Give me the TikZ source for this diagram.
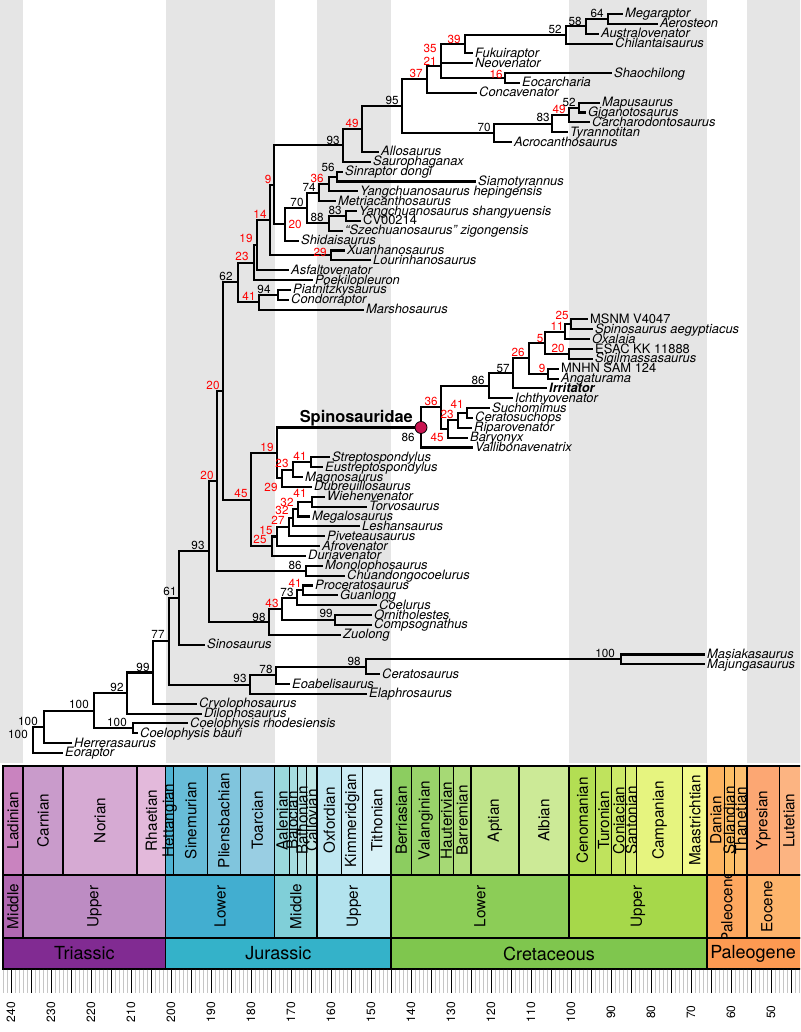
\documentclass[tikz,border=0pt]{standalone}
\usepackage{fontspec}
\setmainfont{TeX Gyre Heros}
\definecolor{band}{RGB}{229,229,229}
\definecolor{spcol}{RGB}{200,20,80}
\definecolor{cLad}{RGB}{201,131,191}
\definecolor{cCar}{RGB}{201,155,203}
\definecolor{cNor}{RGB}{214,170,211}
\definecolor{cRha}{RGB}{227,185,219}
\definecolor{cHet}{RGB}{78,179,211}
\definecolor{cSin}{RGB}{103,188,216}
\definecolor{cPli}{RGB}{128,197,221}
\definecolor{cToa}{RGB}{153,206,227}
\definecolor{cAal}{RGB}{154,217,221}
\definecolor{cBaj}{RGB}{166,221,224}
\definecolor{cBat}{RGB}{179,226,227}
\definecolor{cCal}{RGB}{191,231,229}
\definecolor{cOxf}{RGB}{191,231,241}
\definecolor{cKim}{RGB}{204,236,244}
\definecolor{cTit}{RGB}{217,241,247}
\definecolor{cBer}{RGB}{140,205,96}
\definecolor{cVal}{RGB}{153,211,106}
\definecolor{cHau}{RGB}{166,217,117}
\definecolor{cBar}{RGB}{179,223,127}
\definecolor{cApt}{RGB}{191,228,138}
\definecolor{cAlb}{RGB}{204,234,151}
\definecolor{cCen}{RGB}{179,222,83}
\definecolor{cTur}{RGB}{191,227,93}
\definecolor{cCon}{RGB}{204,233,104}
\definecolor{cSan}{RGB}{217,239,116}
\definecolor{cCam}{RGB}{230,244,127}
\definecolor{cMaa}{RGB}{242,250,140}
\definecolor{cDan}{RGB}{253,180,98}
\definecolor{cSel}{RGB}{254,191,101}
\definecolor{cTha}{RGB}{253,191,111}
\definecolor{cYpr}{RGB}{252,167,115}
\definecolor{cLut}{RGB}{252,180,130}
\definecolor{eMT}{RGB}{177,104,177}
\definecolor{eUT}{RGB}{189,140,195}
\definecolor{eLJ}{RGB}{66,174,208}
\definecolor{eMJ}{RGB}{128,207,216}
\definecolor{eUJ}{RGB}{179,227,238}
\definecolor{eLK}{RGB}{140,205,87}
\definecolor{eUK}{RGB}{166,216,74}
\definecolor{ePal}{RGB}{253,167,95}
\definecolor{eEoc}{RGB}{253,180,108}
\definecolor{pTr}{RGB}{129,43,146}
\definecolor{pJ}{RGB}{52,178,201}
\definecolor{pK}{RGB}{127,198,78}
\definecolor{pPg}{RGB}{253,154,82}
\begin{document}
\begin{tikzpicture}[x=1pt,y=-1pt,
  br/.style={line width=2.1pt},
  leaf/.style={anchor=west,inner xsep=2pt,inner ysep=0pt,text height=9pt,text depth=1pt,font=\fontsize{12.9}{13}\selectfont\itshape},
  rom/.style={font=\fontsize{12.9}{13}\selectfont\upshape},
  bld/.style={font=\fontsize{12.9}{13}\selectfont\bfseries\itshape},
  sup/.style={inner sep=0pt,text height=8.3pt,text depth=0pt,font=\fontsize{11.7}{12}\selectfont},
  rsup/.style={sup,text=red},
  spd/.style={circle,fill=spcol,draw=black,line width=0.8pt,minimum size=12pt,inner sep=0pt},
  tsb/.style={draw=black,line width=1.3pt},
  stl/.style={rotate=90,inner sep=0pt,font=\fontsize{15.3}{16}\selectfont},
  tkl/.style={rotate=90,inner sep=0pt,font=\fontsize{12}{12}\selectfont}]
\useasboundingbox (0,0) rectangle (800,1032);
\clip (0,0) rectangle (800,1032);
\fill[white] (0,0) rectangle (800,1032);
% background epoch bands
\begin{scope}[x=-4pt,xshift=971pt]
\foreach \a/\b in {242.7/237,201.3/174.1,163.5/145,100.5/66,56/30}
  \fill[band] (\a,0) rectangle (\b,763);
\end{scope}
% tree
\begin{scope}[y=-9.853pt,yshift=-4.147pt]
\node[leaf] (L1) at (623,1) {Megaraptor};
\node[leaf] (L2) at (658,2) {Aerosteon};
\node[leaf] (L3) at (599,3) {Australovenator};
\node[leaf] (L4) at (613,4) {Chilantaisaurus};
\node[leaf] (L5) at (473,5) {Fukuiraptor};
\node[leaf] (L6) at (473,6) {Neovenator};
\node[leaf] (L7) at (612,7) {Shaochilong};
\node[leaf] (L8) at (520,8) {Eocarcharia};
\node[leaf] (L9) at (477,9) {Concavenator};
\node[leaf] (L10) at (600,10) {Mapusaurus};
\node[leaf] (L11) at (586,11) {Giganotosaurus};
\node[leaf] (L12) at (590,12) {Carcharodontosaurus};
\node[leaf] (L13) at (568,13) {Tyrannotitan};
\node[leaf] (L14) at (512,14) {Acrocanthosaurus};
\node[leaf] (L15) at (379,15) {Allosaurus};
\node[leaf] (L16) at (371,16) {Saurophaganax};
\node[leaf] (L17) at (343,17) {Sinraptor dongi};
\node[leaf] (L18) at (476,18) {Siamotyrannus};
\node[leaf] (L19) at (358,19) {Yangchuanosaurus hepingensis};
\node[leaf] (L20) at (336,20) {Metriacanthosaurus};
\node[leaf] (L21) at (357,21) {Yangchuanosaurus shangyuensis};
\node[leaf,rom] (L22) at (361,22) {CV00214};
\node[leaf] (L23) at (343,23) {``Szechuanosaurus'' zigongensis};
\node[leaf] (L24) at (299,24) {Shidaisaurus};
\node[leaf] (L25) at (345,25) {Xuanhanosaurus};
\node[leaf] (L26) at (371,26) {Lourinhanosaurus};
\node[leaf] (L27) at (289,27) {Asfaltovenator};
\node[leaf] (L28) at (313,28) {Poekilopleuron};
\node[leaf] (L29) at (291,29) {Piatnitzkysaurus};
\node[leaf] (L30) at (289,30) {Condorraptor};
\node[leaf] (L31) at (364,31) {Marshosaurus};
\node[leaf,rom] (L32) at (588,32) {MSNM V4047};
\node[leaf] (L33) at (593,33) {Spinosaurus aegyptiacus};
\node[leaf] (L34) at (590,34) {Oxalaia};
\node[leaf,rom] (L35) at (593,35) {ESAC KK 11888};
\node[leaf] (L36) at (593,36) {Sigilmassasaurus};
\node[leaf,rom] (L37) at (559,37) {MNHN SAM 124};
\node[leaf] (L38) at (559,38) {Angaturama};
\node[leaf,bld] (L39) at (547,39) {Irritator};
\node[leaf] (L40) at (513,40) {Ichthyovenator};
\node[leaf] (L41) at (490,41) {Suchomimus};
\node[leaf] (L42) at (473,42) {Ceratosuchops};
\node[leaf] (L43) at (472,43) {Riparovenator};
\node[leaf] (L44) at (468,44) {Baryonyx};
\node[leaf] (L45) at (473,45) {Vallibonavenatrix};
\node[leaf] (L46) at (330,46) {Streptospondylus};
\node[leaf] (L47) at (323,47) {Eustreptospondylus};
\node[leaf] (L48) at (303,48) {Magnosaurus};
\node[leaf] (L49) at (312,49) {Dubreuillosaurus};
\node[leaf] (L50) at (325,50) {Wiehenvenator};
\node[leaf] (L51) at (367,51) {Torvosaurus};
\node[leaf] (L52) at (310,52) {Megalosaurus};
\node[leaf] (L53) at (360,53) {Leshansaurus};
\node[leaf] (L54) at (325,54) {Piveteausaurus};
\node[leaf] (L55) at (320,55) {Afrovenator};
\node[leaf] (L56) at (306,56) {Duriavenator};
\node[leaf] (L57) at (323,57) {Monolophosaurus};
\node[leaf] (L58) at (345,58) {Chuandongocoelurus};
\node[leaf] (L59) at (313,59) {Proceratosaurus};
\node[leaf] (L60) at (338,60) {Guanlong};
\node[leaf] (L61) at (377,61) {Coelurus};
\node[leaf] (L62) at (372,62) {Ornitholestes};
\node[leaf] (L63) at (372,63) {Compsognathus};
\node[leaf] (L64) at (341,64) {Zuolong};
\node[leaf] (L65) at (205,65) {Sinosaurus};
\node[leaf] (L66) at (705,66) {Masiakasaurus};
\node[leaf] (L67) at (705,67) {Majungasaurus};
\node[leaf] (L68) at (380,68) {Ceratosaurus};
\node[leaf] (L69) at (290,69) {Eoabelisaurus};
\node[leaf] (L70) at (367,70) {Elaphrosaurus};
\node[leaf] (L71) at (197,71) {Cryolophosaurus};
\node[leaf] (L72) at (202,72) {Dilophosaurus};
\node[leaf] (L73) at (188,73) {Coelophysis rhodesiensis};
\node[leaf] (L74) at (138,74) {Coelophysis bauri};
\node[leaf] (L75) at (72,75) {Herrerasaurus};
\node[leaf] (L76) at (63,76) {Eoraptor};
% internal nodes
\coordinate (n64) at (608,1.5);
\coordinate (n58) at (586,2.25);
\coordinate (n52a) at (566,3.125);
\coordinate (n39) at (465,4.0625);
\coordinate (n35) at (441,5.03125);
\coordinate (n16) at (505,7.5);
\coordinate (n21) at (441,6.265625);
\coordinate (n37) at (427,7.6328);
\coordinate (n52b) at (579,10.5);
\coordinate (n49a) at (569,11.25);
\coordinate (n83a) at (552,12.125);
\coordinate (n70a) at (494,13.0625);
\coordinate (n95) at (402,10.3477);
\coordinate (n49b) at (362,12.6738);
\coordinate (n93a) at (343,14.3369);
\coordinate (n56) at (337,17.5);
\coordinate (n36a) at (329,18.25);
\coordinate (n74) at (319,19.125);
\coordinate (n83b) at (346,21.5);
\coordinate (n88) at (329,22.25);
\coordinate (n70b) at (307,20.6875);
\coordinate (n20a) at (285,22.34375);
\coordinate (n9a) at (274,18.3403);
\coordinate (n29a) at (331,25.5);
\coordinate (n14) at (270,21.9202);
\coordinate (n19a) at (257,24.4601);
\coordinate (n23a) at (254,26.23);
\coordinate (n94) at (278,29.5);
\coordinate (n41a) at (259,30.25);
\coordinate (n62) at (238,28.24);
\coordinate (n25a) at (571,32.5);
\coordinate (n11) at (565,33.25);
\coordinate (n20b) at (569,35.5);
\coordinate (n5) at (545,34.375);
\coordinate (n9b) at (548,37.5);
\coordinate (n26) at (529,35.9375);
\coordinate (n57) at (513,37.46875);
\coordinate (n86a) at (489,38.734);
\coordinate (n41b) at (467,41.5);
\coordinate (n23b) at (458,42.25);
\coordinate (n45a) at (448,43.125);
\coordinate (n36b) at (441,40.93);
\coordinate (nS) at (421,42.965);
\coordinate (n41c) at (311,46.5);
\coordinate (n23c) at (293,47.25);
\coordinate (n29b) at (282,48.125);
\coordinate (n19b) at (277,45.545);
\coordinate (n41d) at (312,50.5);
\coordinate (n32a) at (298,51.25);
\coordinate (n32b) at (293,52.125);
\coordinate (n27) at (289,53.0625);
\coordinate (n15) at (277,54.031);
\coordinate (n25b) at (272,55.016);
\coordinate (n45b) at (251,50.28);
\coordinate (n20c) at (223,39.26);
\coordinate (n86b) at (306,57.5);
\coordinate (n20d) at (217,48.38);
\coordinate (n41e) at (303,59.5);
\coordinate (n73) at (297,60.25);
\coordinate (n99a) at (335,62.5);
\coordinate (n43) at (282,61.375);
\coordinate (n98a) at (269,62.6875);
\coordinate (n93b) at (209,55.534);
\coordinate (n61) at (179,60.267);
\coordinate (n100a) at (621,66.5);
\coordinate (n98b) at (366,67.25);
\coordinate (n78) at (276,68.125);
\coordinate (n93c) at (250,69.0625);
\coordinate (n77) at (169,64.665);
\coordinate (n99b) at (153,67.832);
\coordinate (n92) at (127,69.916);
\coordinate (n100b) at (133,73.5);
\coordinate (n100c) at (94,71.708);
\coordinate (n100d) at (44,73.354);
\coordinate (root) at (33,74.677);
% branches between internal nodes
\foreach \p/\c in {n58/n64,n52a/n58,n39/n52a,n35/n39,n21/n35,n21/n16,n37/n21,n95/n37,n95/n70a,n70a/n83a,n83a/n49a,n49a/n52b,n49b/n95,n93a/n49b,n9a/n93a,n9a/n20a,n20a/n70b,n70b/n74,n70b/n88,n74/n36a,n36a/n56,n88/n83b,n14/n9a,n14/n29a,n19a/n14,n23a/n19a,n62/n23a,n62/n41a,n41a/n94,n20c/n62,n20c/n45b,n45b/n19b,n45b/n25b,n19b/nS,n19b/n29b,nS/n36b,n36b/n86a,n36b/n45a,n86a/n57,n57/n26,n26/n5,n26/n9b,n5/n11,n5/n20b,n11/n25a,n45a/n23b,n23b/n41b,n29b/n23c,n23c/n41c,n25b/n15,n15/n27,n27/n32b,n32b/n32a,n32a/n41d,n20d/n20c,n20d/n86b,n93b/n20d,n93b/n98a,n98a/n43,n43/n73,n43/n99a,n73/n41e,n61/n93b,n77/n61,n77/n93c,n93c/n78,n78/n98b,n98b/n100a,n99b/n77,n92/n99b,n100c/n92,n100c/n100b,n100d/n100c,root/n100d}
  \draw[br] (\p) |- (\c);
% branches to tips
\foreach \p/\c in {n64/L1,n64/L2,n58/L3,n52a/L4,n39/L5,n35/L6,n16/L7,n16/L8,n37/L9,n52b/L10,n52b/L11,n49a/L12,n83a/L13,n70a/L14,n49b/L15,n93a/L16,n56/L17,n56/L18,n36a/L19,n74/L20,n83b/L21,n83b/L22,n88/L23,n20a/L24,n29a/L25,n29a/L26,n19a/L27,n23a/L28,n94/L29,n94/L30,n41a/L31,n25a/L32,n25a/L33,n11/L34,n20b/L35,n20b/L36,n9b/L37,n9b/L38,n57/L39,n86a/L40,n41b/L41,n41b/L42,n23b/L43,n45a/L44,nS/L45,n41c/L46,n41c/L47,n23c/L48,n29b/L49,n41d/L50,n41d/L51,n32a/L52,n32b/L53,n27/L54,n15/L55,n25b/L56,n86b/L57,n86b/L58,n41e/L59,n41e/L60,n73/L61,n99a/L62,n99a/L63,n98a/L64,n61/L65,n100a/L66,n100a/L67,n98b/L68,n78/L69,n93c/L70,n99b/L71,n92/L72,n100b/L73,n100b/L74,n100d/L75,root/L76}
  \draw[br] (\p) |- (\c.west);
\node[spd] (spdot) at (nS) {};
\end{scope}
\node[anchor=east,inner sep=0pt,text height=11.8pt,text depth=0pt,font=\fontsize{16.4}{17}\selectfont\bfseries] (spname) at (413,417) {Spinosauridae};
% support values (black)
\foreach \x/\y/\t [count=\i] in {597/13/64,575/21/58,555/29/52,392/100/95,484/127/70,543/117/83,569/102/52,333/140/93,328/167/56,309/187/74,297/202/70,317/217/88,335/210/83,226/276/62,264/289/94,478/380/86,503/368/57,408/437/86,295/565/86,287/592/73,326/613/99,259/617/98,198/545/93,170/591/61,158/634/77,240/678/93,266/669/78,354/661/98,605/653/100,143/667/99,117/687/92,117/722/100,79/704/100,28/721/100,18/734/100}
  \node[sup] (b\i) at (\x,\y) {\t};
% support values (red)
\foreach \x/\y/\t [count=\i] in {454/39/39,430/48/35,430/61/21,416/73/37,496/74/16,559/109/49,352/123/49,317/178/36,268/179/9,295/224/20,260/214/14,246/238/19,242/256/23,249/296/41,320/252/29,562/315/25,557/326/11,540/338/5,558/348/20,518/352/26,542/368/9,431/401/36,457/404/41,447/414/23,437/437/45,213/385/20,267/447/19,300/456/41,282/463/23,271/487/29,241/493/45,207/475/20,300/493/41,287/502/32,282/510/32,278/520/27,266/530/15,260/539/25,295/583/41,272/603/43}
  \node[rsup] (r\i) at (\x,\y) {\t};
% time scale
\begin{scope}[x=-4pt,xshift=971pt]
% epochs
\foreach \a/\b/\c/\m/\n [count=\i] in {242/237/eMT/239.5/Middle,237/201.3/eUT/219.15/Upper,201.3/174.1/eLJ/187.7/Lower,174.1/163.5/eMJ/168.8/Middle,163.5/145/eUJ/154.25/Upper,145/100.5/eLK/122.75/Lower,100.5/66/eUK/83.25/Upper,66/56/ePal/61/Paleocene,56/30/eEoc/51/Eocene}
  {\draw[tsb,fill=\c] (\a,875) rectangle (\b,938);
   \node[stl] (ep\i) at (\m,906.5) {\n};}
% stages
\foreach \a/\b/\c in {242/237/cLad,237/227/cCar,227/208.5/cNor,208.5/201.3/cRha,201.3/199.3/cHet,199.3/190.8/cSin,190.8/182.7/cPli,182.7/174.1/cToa,174.1/170.3/cAal,170.3/168.3/cBaj,168.3/166.1/cBat,166.1/163.5/cCal,163.5/157.3/cOxf,157.3/152.1/cKim,152.1/145/cTit,145/139.8/cBer,139.8/132.9/cVal,132.9/129.4/cHau,129.4/125/cBar,125/113/cApt,113/100.5/cAlb,100.5/93.9/cCen,93.9/89.8/cTur,89.8/86.3/cCon,86.3/83.6/cSan,83.6/72.1/cCam,72.1/66/cMaa,66/61.6/cDan,61.6/59.2/cSel,59.2/56/cTha,56/47.8/cYpr,47.8/40/cLut}
  \draw[tsb,fill=\c] (\a,766) rectangle (\b,875);
\foreach \m/\n in {239.5/Ladinian,232/Carnian,217.75/Norian,204.9/Rhaetian,200.3/Hettangian,195.05/Sinemurian,186.75/Pliensbachian,178.4/Toarcian,172.2/Aalenian,169.3/Bajocian,167.2/Bathonian,164.8/Callovian,160.4/Oxfordian,154.7/Kimmeridgian,148.55/Tithonian,142.4/Berriasian,136.35/Valanginian,131.15/Hauterivian,127.2/Barremian,119/Aptian,106.75/Albian,97.2/Cenomanian,91.85/Turonian,88.05/Coniacian,84.95/Santonian,77.85/Campanian,69.05/Maastrichtian,63.8/Danian,60.4/Selandian,57.6/Thanetian,51.9/Ypresian,45.5/Lutetian}
  \node[stl] (st\n) at (\m,820.5) {\n};
% periods
\foreach \a/\b/\c/\m/\n in {242/201.3/pTr/221.65/Triassic,201.3/145/pJ/173.15/Jurassic,145/66/pK/105.5/Cretaceous,66/20/pPg/54.5/Paleogene}
  {\draw[tsb,fill=\c] (\a,938) rectangle (\b,969);
   \node[inner sep=0pt,font=\fontsize{18}{18}\selectfont] (pd\n) at (\m,953.5) {\n};}
% ticks
\foreach \a in {43,...,242}
  \draw[gray!45,line width=0.5pt] (\a,969.7) -- (\a,993);
\foreach \a in {45,50,...,240}
  \draw[black,line width=1pt] (\a,969.7) -- (\a,993);
\foreach \a in {50,60,...,240}
  \node[tkl] (tk\a) at (\a,1012) {\a};
\end{scope}
\end{tikzpicture}
\end{document}
